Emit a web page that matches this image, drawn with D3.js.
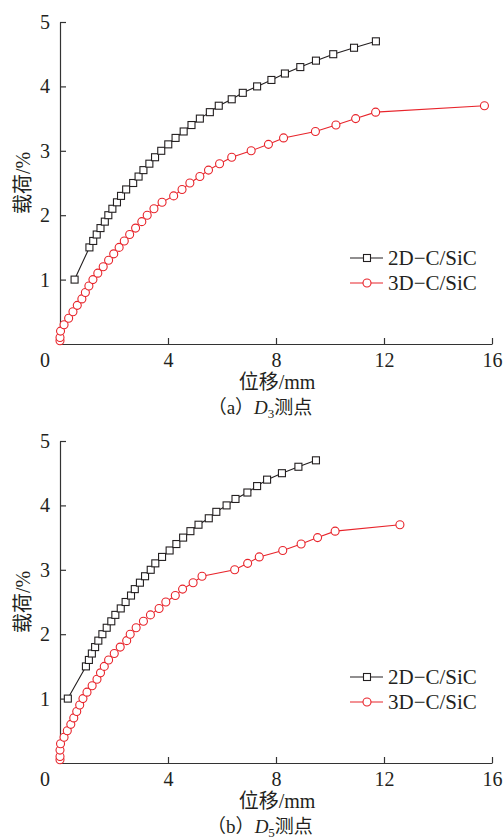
<!DOCTYPE html>
<html>
<head>
<meta charset="utf-8">
<script src="https://cdn.jsdelivr.net/npm/d3@7"></script>
<style>
  body { margin: 0; background: #fff; }
  svg text { font-family: "Liberation Serif", "Noto Sans CJK SC", serif; fill: #231f20; }
</style>
</head>
<body>
<svg width="503" height="839"></svg>
<script>
// load (%) steps shared by both curves
const load_2d = [1.0, 1.5, 1.6, 1.7, 1.8, 1.9, 2.0, 2.1, 2.2, 2.3, 2.4, 2.5, 2.6, 2.7, 2.8, 2.9, 3.0,
  3.1, 3.2, 3.3, 3.4, 3.5, 3.6, 3.7, 3.8, 3.9, 4.0, 4.1, 4.2, 4.3, 4.4, 4.5, 4.6, 4.7];
const load_3d = [0.05, 0.1, 0.2, 0.3, 0.4, 0.5, 0.6, 0.7, 0.8, 0.9, 1.0, 1.1, 1.2, 1.3, 1.4, 1.5, 1.6,
  1.7, 1.8, 1.9, 2.0, 2.1, 2.2, 2.3, 2.4, 2.5, 2.6, 2.7, 2.8, 2.9, 3.0, 3.1, 3.2, 3.3, 3.4, 3.5, 3.6, 3.7];

// displacement (mm), panel (a) D3
const d3_2d = [0.54, 1.09, 1.23, 1.36, 1.50, 1.66, 1.79, 1.94, 2.11, 2.26, 2.45, 2.71, 2.91, 3.09, 3.31,
  3.52, 3.75, 4.01, 4.28, 4.58, 4.87, 5.18, 5.55, 5.88, 6.36, 6.77, 7.30, 7.83, 8.33, 8.90, 9.48, 10.12,
  10.89, 11.70];
const d3_3d = [0.0, 0.0, 0.02, 0.15, 0.32, 0.48, 0.64, 0.81, 0.94, 1.07, 1.22, 1.40, 1.60, 1.80, 1.99,
  2.19, 2.38, 2.58, 2.80, 3.03, 3.23, 3.48, 3.78, 4.21, 4.52, 4.81, 5.18, 5.50, 5.91, 6.36, 7.08, 7.72,
  8.28, 9.46, 10.22, 10.95, 11.69, 15.72];

// displacement (mm), panel (b) D5
const d5_2d = [0.29, 0.96, 1.07, 1.18, 1.30, 1.42, 1.57, 1.73, 1.90, 2.05, 2.25, 2.43, 2.63, 2.77, 2.96,
  3.15, 3.36, 3.53, 3.78, 4.06, 4.31, 4.56, 4.83, 5.13, 5.51, 5.79, 6.17, 6.50, 6.94, 7.30, 7.67, 8.22,
  8.83, 9.48];
const d5_3d = [0.0, 0.0, 0.0, 0.02, 0.15, 0.27, 0.40, 0.51, 0.62, 0.73, 0.85, 1.00, 1.19, 1.37, 1.50,
  1.64, 1.80, 2.01, 2.23, 2.47, 2.60, 2.82, 3.09, 3.35, 3.67, 3.92, 4.27, 4.54, 4.93, 5.26, 6.47, 6.95,
  7.38, 8.25, 8.93, 9.54, 10.19, 12.59];

const x_ticks = [4, 8, 12, 16];
const y_ticks = [1, 2, 3, 4, 5];
const series_names = ["2D\u2212C/SiC", "3D\u2212C/SiC"];
const panels = [
  { tag: "a", sub: "3", top: 22, bottom: 344, xs: [d3_2d, d3_3d] },
  { tag: "b", sub: "5", top: 441, bottom: 763, xs: [d5_2d, d5_3d] }
];

const black = "#231f20";
const red = "#e8242b";
const font_size = 20;

const svg = d3.select("svg");
const x = d3.scaleLinear([0, 16], [60, 492]);

const square = (g, px, py) => g.append("rect")
  .attr("x", px - 3.5).attr("y", py - 3.5)
  .attr("width", 7).attr("height", 7)
  .attr("fill", "#fff").attr("stroke", black).attr("stroke-width", 1.1);
const circle = (g, px, py) => g.append("circle")
  .attr("cx", px).attr("cy", py).attr("r", 4)
  .attr("fill", "#fff").attr("stroke", red).attr("stroke-width", 1.1);

panels.forEach(p => {
  const y = d3.scaleLinear([0, 5], [p.bottom, p.top]);
  const g = svg.append("g");

  // axes, ticks pointing inward
  const gx = g.append("g")
    .attr("transform", `translate(0,${p.bottom})`)
    .call(d3.axisBottom(x).tickValues(x_ticks).tickFormat(d3.format("d"))
      .tickSizeInner(-6).tickSizeOuter(0).tickPadding(9));
  const gy = g.append("g")
    .attr("transform", `translate(${x(0)},0)`)
    .call(d3.axisLeft(y).tickValues(y_ticks).tickFormat(d3.format("d"))
      .tickSizeInner(-6).tickSizeOuter(0).tickPadding(10));
  [gx, gy].forEach(a => {
    a.attr("font-family", null);
    a.selectAll("path, line").attr("stroke", "#333").attr("stroke-width", 1.2);
    a.selectAll("text").attr("font-size", font_size).attr("fill", black);
  });
  g.append("text")
    .attr("x", x(0) - 10).attr("y", p.bottom + 9).attr("dy", "0.71em")
    .attr("text-anchor", "end").attr("font-size", font_size).text("0");

  // series
  const line = d3.line().x(d => x(d[0])).y(d => y(d[1]));
  const s2 = p.xs[0].map((v, i) => [v, load_2d[i]]);
  const s3 = p.xs[1].map((v, i) => [v, load_3d[i]]);
  g.append("path").attr("d", line(s2)).attr("fill", "none").attr("stroke", black).attr("stroke-width", 1.1);
  g.append("path").attr("d", line(s3)).attr("fill", "none").attr("stroke", red).attr("stroke-width", 1.1);
  s2.forEach(d => square(g, x(d[0]), y(d[1])));
  s3.forEach(d => circle(g, x(d[0]), y(d[1])));

  // legend
  const ly = p.top + 236;
  [0, 1].forEach(i => {
    const yy = ly + i * 25;
    const c = i === 0 ? black : red;
    g.append("line").attr("x1", 350).attr("x2", 383).attr("y1", yy).attr("y2", yy)
      .attr("stroke", c).attr("stroke-width", 1.1);
    if (i === 0) square(g, 367, yy); else circle(g, 367, yy);
    g.append("text").attr("x", 388).attr("y", yy).attr("dy", "0.35em")
      .attr("font-size", 21).text(series_names[i]);
  });

  // axis titles
  g.append("text")
    .attr("transform", `translate(23,${(p.top + p.bottom) / 2}) rotate(-90)`)
    .attr("text-anchor", "middle").attr("dy", "0.35em")
    .attr("font-size", font_size).text("载荷/%");
  g.append("text")
    .attr("x", 277).attr("y", p.bottom + 38).attr("dy", "0.35em")
    .attr("text-anchor", "middle").attr("font-size", font_size).text("位移/mm");

  // caption
  const cap = g.append("text")
    .attr("x", 260).attr("y", p.bottom + 63).attr("dy", "0.35em")
    .attr("text-anchor", "middle").attr("font-size", 19);
  cap.append("tspan").text(`（${p.tag}）`);
  cap.append("tspan").attr("font-style", "italic").text("D");
  cap.append("tspan").attr("font-size", 13).attr("dy", 4).text(p.sub);
  cap.append("tspan").attr("dy", -4).text("测点");
});
</script>
</body>
</html>
